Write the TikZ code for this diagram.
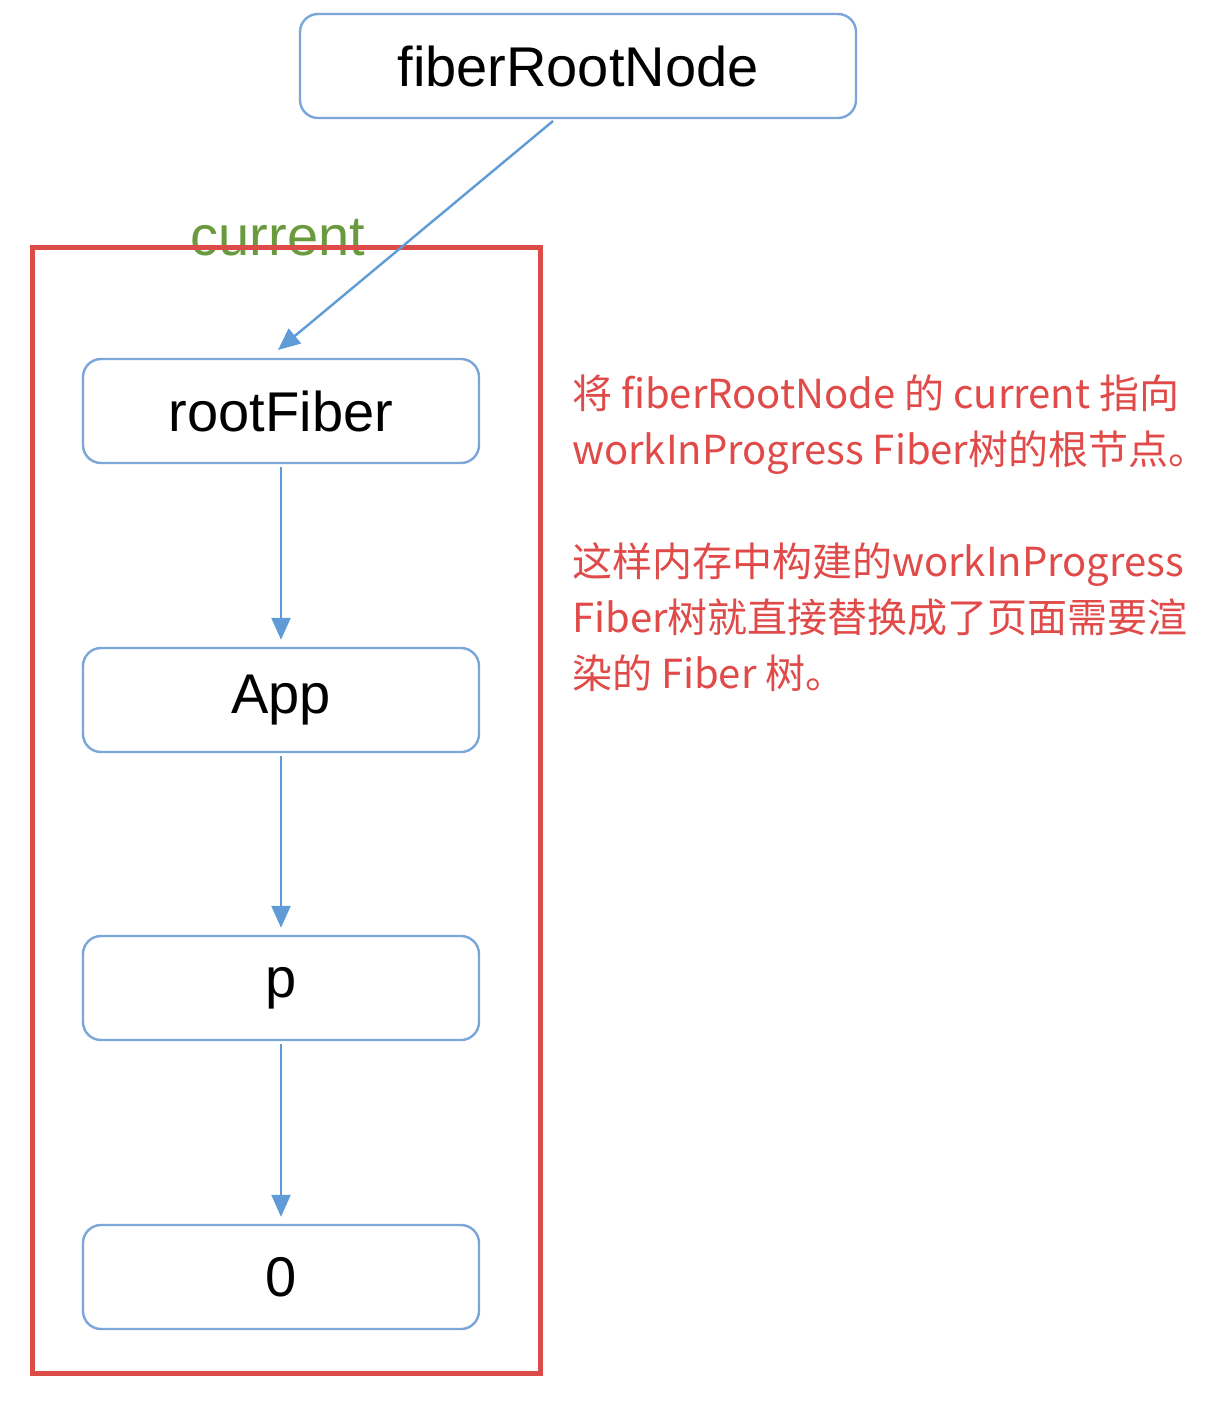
\documentclass[tikz,border=0pt]{standalone}
\usepackage{fontspec}
\setmainfont{Liberation Sans}
\newfontfamily\cjk{Noto Sans CJK SC}
\usetikzlibrary{arrows.meta}
\definecolor{boxblue}{HTML}{7AA6D9}
\definecolor{arrblue}{HTML}{5F9BD6}
\definecolor{frame}{HTML}{DC4B47}
\definecolor{curgreen}{HTML}{6A9A3E}
\definecolor{note}{HTML}{E04A48}
\begin{document}
\begin{tikzpicture}[x=1pt,y=-1pt,
  fbox/.style={draw=boxblue,line width=2.4pt,rounded corners=18pt,minimum width=396pt,minimum height=104pt,inner sep=0pt,font=\fontsize{56}{66}\selectfont},
  conn/.style={draw=arrblue,line width=2.4pt,-{Triangle[length=22pt,width=19pt]}},
  notetxt/.style={anchor=base west,inner sep=0pt,text=note,font=\cjk\fontsize{40}{48}\selectfont}]
\useasboundingbox (0,0) rectangle (1220,1402);
\fill[white] (0,0) rectangle (1220,1402);
% label under frame
\node[anchor=base,inner sep=0pt,text=curgreen,font=\fontsize{56}{66}\selectfont] (cur) at (278,255) {current};
% red frame
\draw[frame,line width=5pt] (32,247) rectangle (540,1373);
% nodes
\node[fbox,minimum width=556pt] (froot) at (578,66) {fiberRootNode};
\node[fbox] (rf) at (281,411) {rootFiber};
\node[fbox] (app) at (281,700) {App};
\node[fbox] (p) at (281,988) {p};
\node[fbox] (zero) at (281,1277) {0};
% connectors
\coordinate (fs) at (553,121);
\coordinate (ft) at (278,350);
\draw[conn] (fs) -- (ft);
\draw[conn,shorten <=3pt,shorten >=7pt] (rf.south) -- (app.north);
\draw[conn,shorten <=3pt,shorten >=7pt] (app.south) -- (p.north);
\draw[conn,shorten <=3pt,shorten >=7pt] (p.south) -- (zero.north);
% note text
\node[notetxt] (n1) at (572,408) {将 fiberRootNode 的 current 指向};
\node[notetxt] (n2) at (572,464) {workInProgress Fiber树的根节点。};
\node[notetxt] (n3) at (572,576) {这样内存中构建的workInProgress};
\node[notetxt] (n4) at (572,632) {Fiber树就直接替换成了页面需要渲};
\node[notetxt] (n5) at (572,688) {染的 Fiber 树。};
\end{tikzpicture}
\end{document}
